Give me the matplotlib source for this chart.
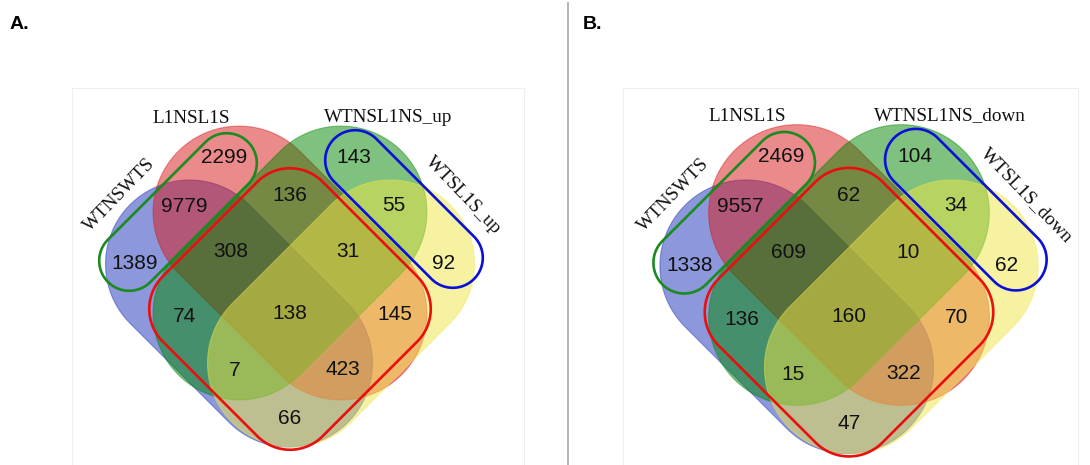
import numpy as np
import matplotlib
matplotlib.use("Agg")
import matplotlib.pyplot as plt
from matplotlib.patches import Polygon, Rectangle

# ---- data -------------------------------------------------------------
# Each region is named by the sets it belongs to:
# 1 = WTNSWTS, 2 = L1NSL1S, 3 = WTNSL1NS_*, 4 = WTSL1S_*
regions = ["1", "2", "3", "4", "12", "34", "23", "123", "234",
           "1234", "13", "24", "134", "124", "14"]
counts_up = [1389, 2299, 143, 92, 9779, 55, 136, 308, 31,
             138, 74, 145, 7, 423, 66]
counts_down = [1338, 2469, 104, 62, 9557, 34, 62, 609, 10,
               160, 136, 70, 15, 322, 47]
set_names_up = ["WTNSWTS", "L1NSL1S", "WTNSL1NS_up", "WTSL1S_up"]
set_names_down = ["WTNSWTS", "L1NSL1S", "WTNSL1NS_down", "WTSL1S_down"]
panel_titles = ["A.", "B."]

# ---- layout (pixel units relative to the diagram centre, y down) -------
region_pos = {
    "1": (-155, 0), "2": (-66, -106), "3": (64, -106), "4": (154, 0),
    "12": (-106, -57), "34": (104, -58), "23": (0, -68),
    "123": (-59, -12), "234": (58, -12), "1234": (0, 50),
    "13": (-105, 53), "24": (105, 51), "134": (-55, 107),
    "124": (53, 106), "14": (0, 155),
}
# set shapes: centre, axis angle (screen degrees, y down), half straight length, radius
set_shapes = [((-51, 50.5), 45, 70, 84), ((0, 0), 45, 72, 86),
              ((0, 0), 135, 72, 86), ((51, 50.5), 135, 70, 84)]
set_colors = [(0.10, 0.20, 0.72), (0.85, 0.09, 0.09),
              (0.00, 0.53, 0.00), (0.94, 0.90, 0.28)]
name_pos = [((-171, -68), 46), ((-99, -145), 0), ((98, -146), 0), ((173, -68), -46)]


def capsule(c, half_len, radius, ang, n=80):
    t = np.radians(ang)
    e = np.array([np.cos(t), np.sin(t)])
    nv = np.array([-e[1], e[0]])
    a1 = np.linspace(-np.pi / 2, np.pi / 2, n)
    a2 = np.linspace(np.pi / 2, 3 * np.pi / 2, n)
    u = np.concatenate([half_len + radius * np.cos(a1), -half_len + radius * np.cos(a2)])
    v = np.concatenate([radius * np.sin(a1), radius * np.sin(a2)])
    return np.asarray(c) + u[:, None] * e + v[:, None] * nv


def rounded_square(c, hu, hv, rr, ang, n=30):
    t = np.radians(ang)
    e = np.array([np.cos(t), np.sin(t)])
    nv = np.array([-e[1], e[0]])
    us, vs = [], []
    corners = [(hu - rr, hv - rr, 0), (-(hu - rr), hv - rr, 90),
               (-(hu - rr), -(hv - rr), 180), (hu - rr, -(hv - rr), 270)]
    for cu, cv, a0 in corners:
        a = np.radians(np.linspace(a0, a0 + 90, n))
        us.append(cu + rr * np.cos(a))
        vs.append(cv + rr * np.sin(a))
    u = np.concatenate(us)
    v = np.concatenate(vs)
    return np.asarray(c) + u[:, None] * e + v[:, None] * nv


def draw_panel(ax, origin, s, counts, names):
    ox, oy = origin

    def P(p):
        return (ox + s * p[0], oy + s * p[1])

    for (c, ang, hl, rad), col, z in zip(set_shapes, set_colors, range(1, 5)):
        pts = capsule(P(c), s * hl, s * rad, ang)
        ax.add_patch(Polygon(pts, closed=True, facecolor=(*col, 0.5),
                             edgecolor=(*col, 0.45), lw=0.8, zorder=z))

    # highlighted groups
    ax.add_patch(Polygon(capsule(P((-112, -51)), s * 69, s * 30, -45),
                         closed=True, fill=False, edgecolor="#1b8a1f", lw=1.9, zorder=6))
    ax.add_patch(Polygon(capsule(P((114, -54)), s * 69, s * 30, 45),
                         closed=True, fill=False, edgecolor="#0a10d8", lw=1.9, zorder=6))
    ax.add_patch(Polygon(rounded_square(P((0, 46)), s * 113, s * 113, s * 46, 45),
                         closed=True, fill=False, edgecolor="#ea0f0f", lw=1.9, zorder=7))

    for reg, val in zip(regions, counts):
        x, y = P(region_pos[reg])
        ax.text(x, y, str(val), ha="center", va="center", fontsize=15,
                family="Liberation Sans", color="#111111", zorder=8)

    for name, (p, rot) in zip(names, name_pos):
        x, y = P(p)
        ax.text(x, y, name, ha="center", va="center", rotation=rot,
                rotation_mode="anchor", fontsize=13.8,
                family="Liberation Serif", color="#111111", zorder=8)


fig = plt.figure(figsize=(10.9, 4.65), dpi=100)
ax = fig.add_axes([0, 0, 1, 1])
ax.set_xlim(0, 1090)
ax.set_ylim(465, 0)
ax.axis("off")

# faint frames behind each diagram
ax.add_patch(Rectangle((72, 88), 452, 390, fill=False, edgecolor="#efefef", lw=0.8, zorder=0))
ax.add_patch(Rectangle((623, 88), 455, 390, fill=False, edgecolor="#efefef", lw=0.8, zorder=0))

draw_panel(ax, (290, 263), 1.0, counts_up, set_names_up)
draw_panel(ax, (849, 265), 1.025, counts_down, set_names_down)

# divider between the panels
ax.plot([568, 568], [3, 465], color="#a8a8a8", lw=1.2, zorder=0)

ax.text(10, 29, panel_titles[0], ha="left", va="baseline", fontsize=14,
        fontweight="bold", family="Liberation Sans")
ax.text(583, 29, panel_titles[1], ha="left", va="baseline", fontsize=14,
        fontweight="bold", family="Liberation Sans")

fig.savefig("out.png", dpi=100)
